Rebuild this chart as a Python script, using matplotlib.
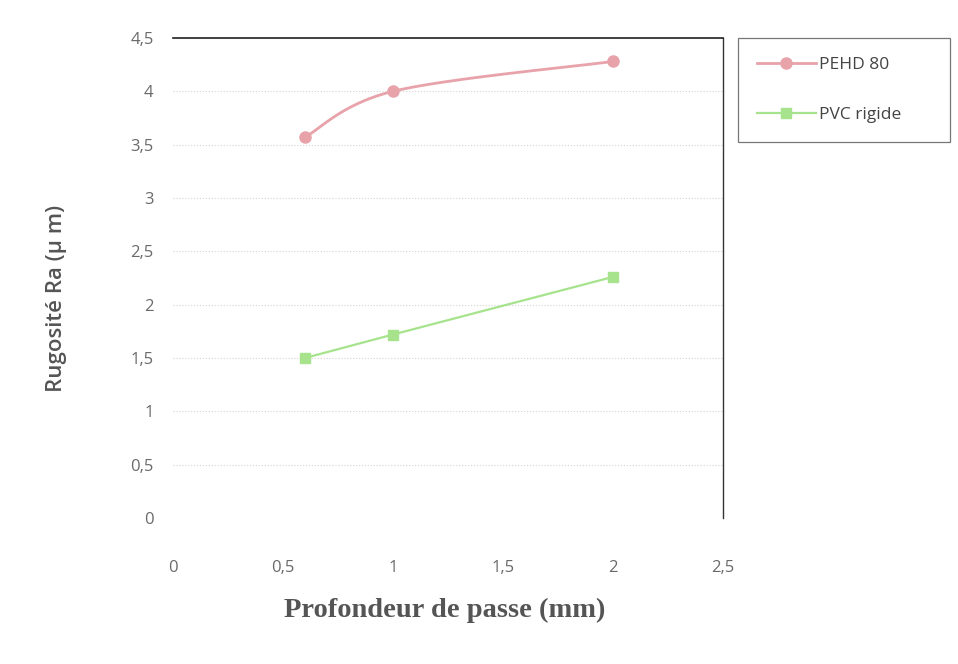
import numpy as np
import matplotlib
matplotlib.use("Agg")
import matplotlib.pyplot as plt

# data
depth = [0.6, 1.0, 2.0]
pehd_80 = [3.57, 4.0, 4.28]
pvc_rigide = [1.50, 1.72, 2.26]
series_names = ["PEHD 80", "PVC rigide"]

x_ticks = [0, 0.5, 1, 1.5, 2, 2.5]
y_ticks = [0, 0.5, 1, 1.5, 2, 2.5, 3, 3.5, 4, 4.5]

pink = "#e8a2aa"
green = "#a6e38c"
tick_grey = "#6a6a6a"


def smooth_line(xs, ys, n=60):
    # Excel-style smoothed line: cubic Bezier between the points,
    # tangents taken from the neighbouring points
    p = np.column_stack([xs, ys]).astype(float)
    ext = np.vstack([p[0], p, p[-1]])
    t = np.linspace(0, 1, n)[:, None]
    pieces = []
    for i in range(len(p) - 1):
        a, b = p[i], p[i + 1]
        c1 = a + (ext[i + 2] - ext[i]) / 6
        c2 = b - (ext[i + 3] - ext[i + 1]) / 6
        seg = ((1 - t) ** 3 * a + 3 * (1 - t) ** 2 * t * c1
               + 3 * (1 - t) * t ** 2 * c2 + t ** 3 * b)
        pieces.append(seg)
    out = np.vstack(pieces)
    return out[:, 0], out[:, 1]


fig = plt.figure(figsize=(9.58, 6.64), dpi=100)
ax = fig.add_axes([0.1806, 0.2199, 0.5741, 0.7229])

sx, sy = smooth_line(depth, pehd_80)
ax.plot(sx, sy, color=pink, lw=2, zorder=3)
ax.plot(depth, pehd_80, ls="none", marker="o", ms=8, color=pink, zorder=4)
ax.plot(depth, pvc_rigide, color=green, lw=1.6, marker="s", ms=7.5,
        markerfacecolor=green, markeredgecolor=green, zorder=3)

# legend handles
h1, = ax.plot([], [], color=pink, lw=2, marker="o", ms=8)
h2, = ax.plot([], [], color=green, lw=1.6, marker="s", ms=7.5)
leg = fig.legend([h1, h2], series_names, loc="upper left",
                 bbox_to_anchor=(0.770, 0.943 - 0.151, 0.222, 0.151),
                 mode="expand", frameon=True, fancybox=False,
                 fontsize=12.5, labelspacing=1.95, borderpad=1.1,
                 handlelength=3.4, handletextpad=0.2, borderaxespad=0)
leg.get_frame().set_edgecolor("#555555")
leg.get_frame().set_linewidth(0.9)
for t in leg.get_texts():
    t.set_color("#444444")
    t.set_family("Open Sans")

ax.set_xlim(0, 2.5)
ax.set_ylim(0, 4.5)
ax.set_xticks(x_ticks)
ax.set_yticks(y_ticks)
ax.set_xticklabels([str(v).replace(".", ",") for v in x_ticks])
ax.set_yticklabels([str(v).replace(".", ",") if v % 1 else str(int(v)) for v in y_ticks])
ax.tick_params(length=0, labelsize=12, colors=tick_grey)
ax.tick_params(axis="x", pad=30)
ax.tick_params(axis="y", pad=14)
for lab in ax.get_xticklabels() + ax.get_yticklabels():
    lab.set_family("Open Sans")

ax.yaxis.grid(True, color="#d4d4d4", ls=":", lw=0.8)
ax.set_axisbelow(True)
for side in ["left", "bottom"]:
    ax.spines[side].set_visible(False)
ax.spines["top"].set_color("#222222")
ax.spines["right"].set_color("#333333")
ax.spines["top"].set_linewidth(1.2)
ax.spines["right"].set_linewidth(1.0)

fig.text(0.059, 0.55, "Rugosité Ra (µ m)", rotation=90, ha="center",
         va="center", fontsize=16, color="#555555", family="Open Sans",
         fontweight="semibold")
fig.text(0.4645, 0.081, "Profondeur de passe (mm)", ha="center", va="center",
         fontsize=20.5, color="#555555", family="Liberation Serif",
         fontweight="bold")

fig.savefig("out.png", dpi=100)
